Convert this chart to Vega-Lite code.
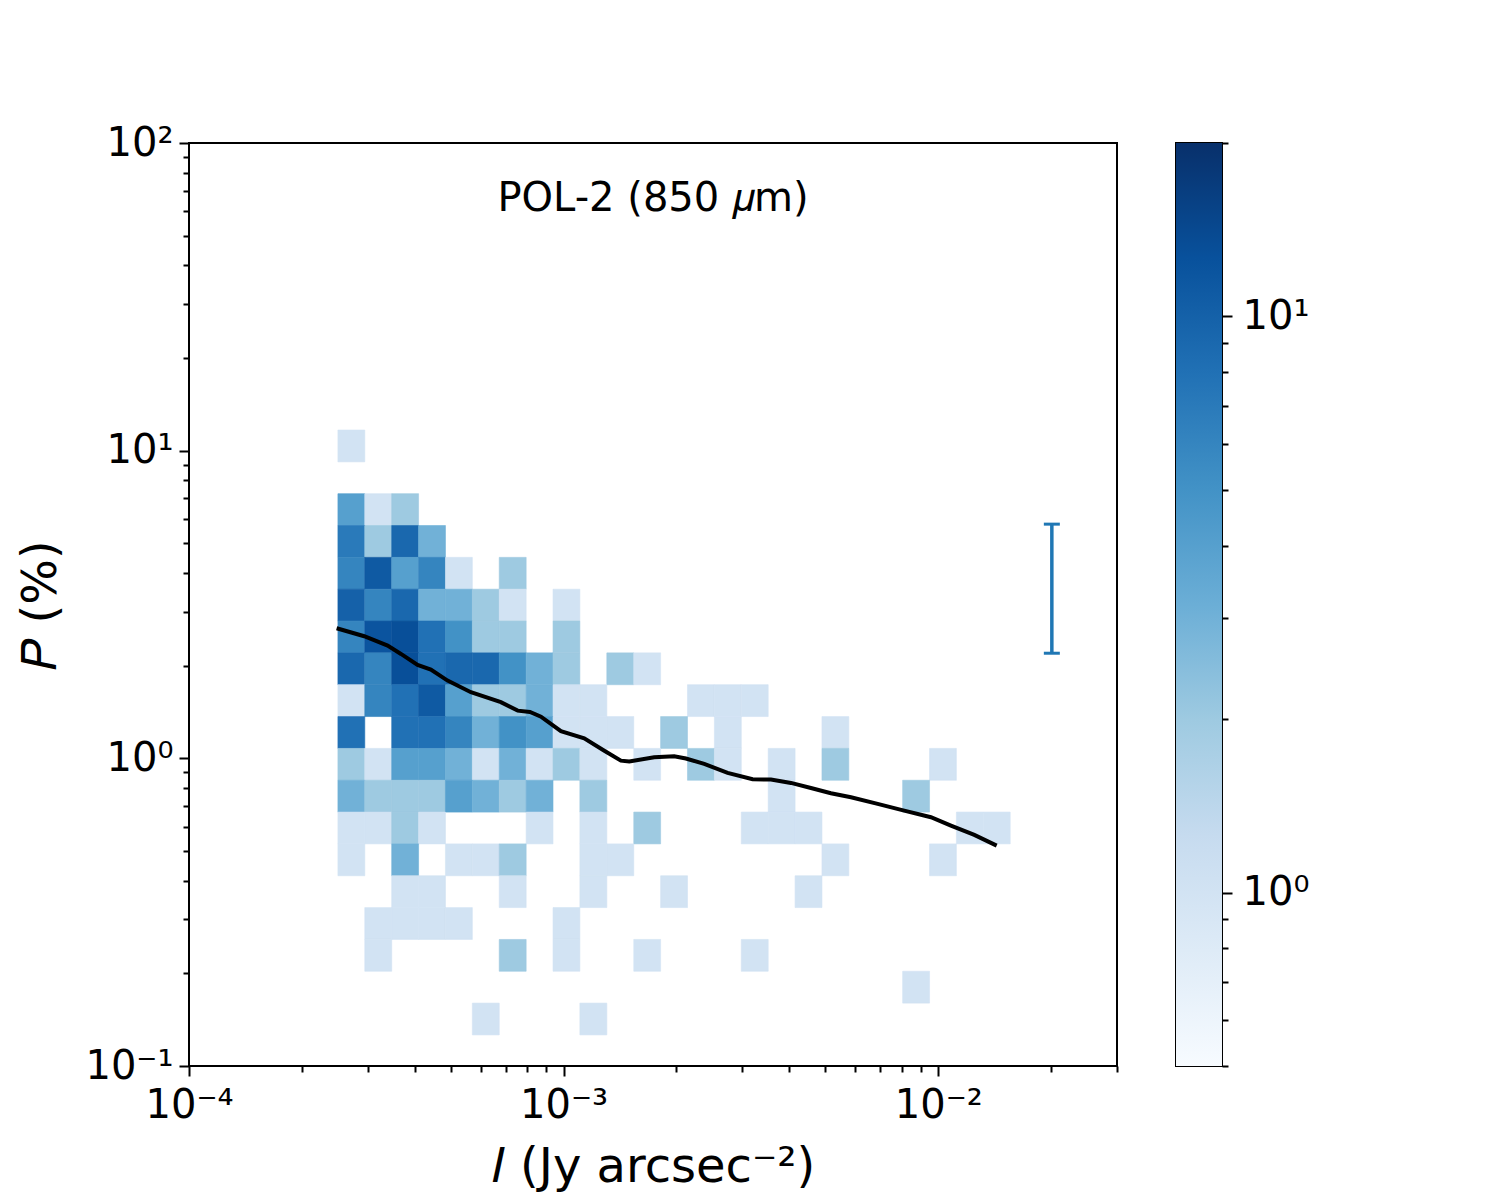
{
  "$schema": "https://vega.github.io/schema/vega-lite/v6.json",
  "background": "white",
  "padding": {"left": 16, "top": 122, "right": 5, "bottom": 5},
  "spacing": 56,
  "config": {
    "font": "DejaVu Sans",
    "view": {"stroke": "black", "strokeWidth": 2},
    "axis": {
      "grid": false, "domain": false, "tickColor": "black", "tickWidth": 2,
      "labelColor": "black", "titleColor": "black", "labelFont": "DejaVu Sans", "titleFont": "DejaVu Sans",
      "labelFontSize": 40, "titleFontSize": 48, "titleFontWeight": "normal",
      "labelFlush": false, "labelOverlap": false
    }
  },
  "datasets": {
    "xbins": [
      {"c": 0, "lo": 0.00024975, "hi": 0.0002946},
      {"c": 1, "lo": 0.0002946, "hi": 0.0003476},
      {"c": 2, "lo": 0.0003476, "hi": 0.0004101},
      {"c": 3, "lo": 0.0004101, "hi": 0.0004837},
      {"c": 4, "lo": 0.0004837, "hi": 0.0005706},
      {"c": 5, "lo": 0.0005706, "hi": 0.0006732},
      {"c": 6, "lo": 0.0006732, "hi": 0.0007943},
      {"c": 7, "lo": 0.0007943, "hi": 0.0009369},
      {"c": 8, "lo": 0.0009369, "hi": 0.001105},
      {"c": 9, "lo": 0.001105, "hi": 0.001304},
      {"c": 10, "lo": 0.001304, "hi": 0.001539},
      {"c": 11, "lo": 0.001539, "hi": 0.001815},
      {"c": 12, "lo": 0.001815, "hi": 0.002141},
      {"c": 13, "lo": 0.002141, "hi": 0.002526},
      {"c": 14, "lo": 0.002526, "hi": 0.00298},
      {"c": 15, "lo": 0.00298, "hi": 0.003516},
      {"c": 16, "lo": 0.003516, "hi": 0.004148},
      {"c": 17, "lo": 0.004148, "hi": 0.004893},
      {"c": 18, "lo": 0.004893, "hi": 0.005771},
      {"c": 19, "lo": 0.005771, "hi": 0.00681},
      {"c": 20, "lo": 0.00681, "hi": 0.008034},
      {"c": 21, "lo": 0.008034, "hi": 0.009478},
      {"c": 22, "lo": 0.009478, "hi": 0.01118},
      {"c": 23, "lo": 0.01118, "hi": 0.01319},
      {"c": 24, "lo": 0.01319, "hi": 0.01556}
    ],
    "ybins": [
      {"r": 0, "lo": 9.196, "hi": 11.67},
      {"r": 1, "lo": 7.247, "hi": 9.196},
      {"r": 2, "lo": 5.711, "hi": 7.247},
      {"r": 3, "lo": 4.5, "hi": 5.711},
      {"r": 4, "lo": 3.546, "hi": 4.5},
      {"r": 5, "lo": 2.794, "hi": 3.546},
      {"r": 6, "lo": 2.202, "hi": 2.794},
      {"r": 7, "lo": 1.735, "hi": 2.202},
      {"r": 8, "lo": 1.367, "hi": 1.735},
      {"r": 9, "lo": 1.077, "hi": 1.367},
      {"r": 10, "lo": 0.8487, "hi": 1.077},
      {"r": 11, "lo": 0.6688, "hi": 0.8487},
      {"r": 12, "lo": 0.5271, "hi": 0.6688},
      {"r": 13, "lo": 0.4153, "hi": 0.5271},
      {"r": 14, "lo": 0.3272, "hi": 0.4153},
      {"r": 15, "lo": 0.2578, "hi": 0.3272},
      {"r": 16, "lo": 0.2032, "hi": 0.2578},
      {"r": 17, "lo": 0.1601, "hi": 0.2032},
      {"r": 18, "lo": 0.1262, "hi": 0.1601}
    ],
    "cells": [
      {"r": 0, "c": 0, "n": 1},
      {"r": 2, "c": 0, "n": 4}, {"r": 2, "c": 1, "n": 1}, {"r": 2, "c": 2, "n": 2},
      {"r": 3, "c": 0, "n": 7}, {"r": 3, "c": 1, "n": 2}, {"r": 3, "c": 2, "n": 9}, {"r": 3, "c": 3, "n": 3},
      {"r": 4, "c": 0, "n": 6}, {"r": 4, "c": 1, "n": 11}, {"r": 4, "c": 2, "n": 4}, {"r": 4, "c": 3, "n": 6}, {"r": 4, "c": 4, "n": 1}, {"r": 4, "c": 6, "n": 2},
      {"r": 5, "c": 0, "n": 10}, {"r": 5, "c": 1, "n": 6}, {"r": 5, "c": 2, "n": 9}, {"r": 5, "c": 3, "n": 3}, {"r": 5, "c": 4, "n": 3}, {"r": 5, "c": 5, "n": 2}, {"r": 5, "c": 6, "n": 1}, {"r": 5, "c": 8, "n": 1},
      {"r": 6, "c": 0, "n": 6}, {"r": 6, "c": 1, "n": 12}, {"r": 6, "c": 2, "n": 13}, {"r": 6, "c": 3, "n": 8}, {"r": 6, "c": 4, "n": 5}, {"r": 6, "c": 5, "n": 2}, {"r": 6, "c": 6, "n": 2}, {"r": 6, "c": 8, "n": 2},
      {"r": 7, "c": 0, "n": 9}, {"r": 7, "c": 1, "n": 6}, {"r": 7, "c": 2, "n": 13}, {"r": 7, "c": 3, "n": 8}, {"r": 7, "c": 4, "n": 9}, {"r": 7, "c": 5, "n": 9}, {"r": 7, "c": 6, "n": 5}, {"r": 7, "c": 7, "n": 3}, {"r": 7, "c": 8, "n": 2}, {"r": 7, "c": 10, "n": 2}, {"r": 7, "c": 11, "n": 1},
      {"r": 8, "c": 0, "n": 1}, {"r": 8, "c": 1, "n": 6}, {"r": 8, "c": 2, "n": 8}, {"r": 8, "c": 3, "n": 11}, {"r": 8, "c": 4, "n": 4}, {"r": 8, "c": 5, "n": 2}, {"r": 8, "c": 6, "n": 2}, {"r": 8, "c": 7, "n": 3}, {"r": 8, "c": 8, "n": 1}, {"r": 8, "c": 9, "n": 1}, {"r": 8, "c": 13, "n": 1}, {"r": 8, "c": 14, "n": 1}, {"r": 8, "c": 15, "n": 1},
      {"r": 9, "c": 0, "n": 8}, {"r": 9, "c": 2, "n": 8}, {"r": 9, "c": 3, "n": 8}, {"r": 9, "c": 4, "n": 6}, {"r": 9, "c": 5, "n": 3}, {"r": 9, "c": 6, "n": 5}, {"r": 9, "c": 7, "n": 4}, {"r": 9, "c": 8, "n": 1}, {"r": 9, "c": 9, "n": 1}, {"r": 9, "c": 10, "n": 1}, {"r": 9, "c": 12, "n": 2}, {"r": 9, "c": 14, "n": 1}, {"r": 9, "c": 18, "n": 1},
      {"r": 10, "c": 0, "n": 2}, {"r": 10, "c": 1, "n": 1}, {"r": 10, "c": 2, "n": 4}, {"r": 10, "c": 3, "n": 4}, {"r": 10, "c": 4, "n": 3}, {"r": 10, "c": 5, "n": 1}, {"r": 10, "c": 6, "n": 3}, {"r": 10, "c": 7, "n": 1}, {"r": 10, "c": 8, "n": 2}, {"r": 10, "c": 9, "n": 1}, {"r": 10, "c": 11, "n": 1}, {"r": 10, "c": 13, "n": 2}, {"r": 10, "c": 14, "n": 1}, {"r": 10, "c": 16, "n": 1}, {"r": 10, "c": 18, "n": 2}, {"r": 10, "c": 22, "n": 1},
      {"r": 11, "c": 0, "n": 3}, {"r": 11, "c": 1, "n": 2}, {"r": 11, "c": 2, "n": 2}, {"r": 11, "c": 3, "n": 2}, {"r": 11, "c": 4, "n": 4}, {"r": 11, "c": 5, "n": 3}, {"r": 11, "c": 6, "n": 2}, {"r": 11, "c": 7, "n": 3}, {"r": 11, "c": 9, "n": 2}, {"r": 11, "c": 16, "n": 1}, {"r": 11, "c": 21, "n": 2},
      {"r": 12, "c": 0, "n": 1}, {"r": 12, "c": 1, "n": 1}, {"r": 12, "c": 2, "n": 2}, {"r": 12, "c": 3, "n": 1}, {"r": 12, "c": 7, "n": 1}, {"r": 12, "c": 9, "n": 1}, {"r": 12, "c": 11, "n": 2}, {"r": 12, "c": 15, "n": 1}, {"r": 12, "c": 16, "n": 1}, {"r": 12, "c": 17, "n": 1}, {"r": 12, "c": 23, "n": 1}, {"r": 12, "c": 24, "n": 1},
      {"r": 13, "c": 0, "n": 1}, {"r": 13, "c": 2, "n": 3}, {"r": 13, "c": 4, "n": 1}, {"r": 13, "c": 5, "n": 1}, {"r": 13, "c": 6, "n": 2}, {"r": 13, "c": 9, "n": 1}, {"r": 13, "c": 10, "n": 1}, {"r": 13, "c": 18, "n": 1}, {"r": 13, "c": 22, "n": 1},
      {"r": 14, "c": 2, "n": 1}, {"r": 14, "c": 3, "n": 1}, {"r": 14, "c": 6, "n": 1}, {"r": 14, "c": 9, "n": 1}, {"r": 14, "c": 12, "n": 1}, {"r": 14, "c": 17, "n": 1},
      {"r": 15, "c": 1, "n": 1}, {"r": 15, "c": 2, "n": 1}, {"r": 15, "c": 3, "n": 1}, {"r": 15, "c": 4, "n": 1}, {"r": 15, "c": 8, "n": 1},
      {"r": 16, "c": 1, "n": 1}, {"r": 16, "c": 6, "n": 2}, {"r": 16, "c": 8, "n": 1}, {"r": 16, "c": 11, "n": 1}, {"r": 16, "c": 15, "n": 1},
      {"r": 17, "c": 21, "n": 1},
      {"r": 18, "c": 5, "n": 1}, {"r": 18, "c": 9, "n": 1}
    ],
    "median": [
      {"x": 0.0002478, "y": 2.648}, {"x": 0.0002936, "y": 2.494}, {"x": 0.000339, "y": 2.324},
      {"x": 0.0003679, "y": 2.184}, {"x": 0.0004075, "y": 2.011}, {"x": 0.0004422, "y": 1.942},
      {"x": 0.00049, "y": 1.789}, {"x": 0.0005655, "y": 1.64}, {"x": 0.00068, "y": 1.522},
      {"x": 0.000754, "y": 1.429}, {"x": 0.000813, "y": 1.415}, {"x": 0.00087, "y": 1.366},
      {"x": 0.0009835, "y": 1.225}, {"x": 0.001135, "y": 1.161}, {"x": 0.001284, "y": 1.059},
      {"x": 0.001422, "y": 0.983}, {"x": 0.001497, "y": 0.976}, {"x": 0.001745, "y": 1.008},
      {"x": 0.001973, "y": 1.016}, {"x": 0.00212, "y": 0.999}, {"x": 0.002373, "y": 0.959},
      {"x": 0.00274, "y": 0.897}, {"x": 0.003195, "y": 0.855}, {"x": 0.003576, "y": 0.853},
      {"x": 0.004045, "y": 0.832}, {"x": 0.004572, "y": 0.801}, {"x": 0.00517, "y": 0.77},
      {"x": 0.005848, "y": 0.7474}, {"x": 0.00689, "y": 0.711}, {"x": 0.00811, "y": 0.676},
      {"x": 0.00956, "y": 0.6437}, {"x": 0.01081, "y": 0.6045}, {"x": 0.01248, "y": 0.5637},
      {"x": 0.01432, "y": 0.5202}
    ],
    "errbar": [{"x": 0.0201, "lo": 2.196, "hi": 5.77}],
    "cbar": [{"lo": 0.5, "hi": 20}]
  },
  "hconcat": [
    {
      "width": 928,
      "height": 923,
      "title": {
        "text": "POL-2 (850 𝜇m)", "fontSize": 40, "fontWeight": "normal", "color": "black",
        "frame": "group", "anchor": "middle", "offset": -96
      },
      "layer": [
        {
          "data": {"name": "cells"},
          "transform": [
            {"lookup": "c", "from": {"data": {"name": "xbins"}, "key": "c", "fields": ["lo", "hi"]}, "as": ["x0", "x1"]},
            {"lookup": "r", "from": {"data": {"name": "ybins"}, "key": "r", "fields": ["lo", "hi"]}, "as": ["y0", "y1"]}
          ],
          "mark": {"type": "rect", "strokeWidth": 0.6},
          "encoding": {
            "x": {
              "field": "x0", "type": "quantitative",
              "scale": {"type": "log", "domain": [0.0001, 0.03], "nice": false},
              "axis": {
                "orient": "bottom", "values": [0.0001, 0.001, 0.01],
                "labelExpr": "datum.value < 0.0005 ? '10⁻⁴' : datum.value < 0.005 ? '10⁻³' : '10⁻²'",
                "tickSize": 10, "labelPadding": 9, "title": "𝐼 (Jy arcsec⁻²)", "titlePadding": 18
              }
            },
            "x2": {"field": "x1"},
            "y": {
              "field": "y0", "type": "quantitative",
              "scale": {"type": "log", "domain": [0.1, 100], "nice": false},
              "axis": {
                "orient": "left", "values": [0.1, 1, 10, 100],
                "labelExpr": "datum.value < 0.5 ? '10⁻¹' : datum.value < 5 ? '10⁰' : datum.value < 50 ? '10¹' : '10²'",
                "tickSize": 10, "labelPadding": 6, "title": "𝑃 (%)",
                "titleX": -148, "titleBaseline": "middle"
              }
            },
            "y2": {"field": "y1"},
            "color": {
              "field": "n", "type": "quantitative",
              "scale": {
                "type": "log",
                "domain": [0.5, 0.7929, 1.2574, 1.9938, 3.1623, 5.0149, 7.9527, 12.612, 20],
                "range": ["#f7fbff", "#deebf7", "#c6dbef", "#9ecae1", "#6baed6", "#4292c6", "#2171b5", "#08519c", "#08306b"],
                "interpolate": "rgb"
              },
              "legend": null
            },
            "stroke": {
              "field": "n", "type": "quantitative",
              "scale": {
                "type": "log",
                "domain": [0.5, 0.7929, 1.2574, 1.9938, 3.1623, 5.0149, 7.9527, 12.612, 20],
                "range": ["#f7fbff", "#deebf7", "#c6dbef", "#9ecae1", "#6baed6", "#4292c6", "#2171b5", "#08519c", "#08306b"],
                "interpolate": "rgb"
              },
              "legend": null
            }
          }
        },
        {
          "data": {"name": "median"},
          "mark": {"type": "line", "color": "black", "strokeWidth": 4},
          "encoding": {
            "x": {
              "field": "x", "type": "quantitative",
              "axis": {
                "orient": "bottom", "labels": false, "title": null, "tickSize": 6,
                "values": [0.0002, 0.0003, 0.0004, 0.0005, 0.0006, 0.0007, 0.0008, 0.0009, 0.002, 0.003, 0.004, 0.005, 0.006, 0.007, 0.008, 0.009, 0.02, 0.03]
              }
            },
            "y": {
              "field": "y", "type": "quantitative",
              "axis": {
                "orient": "left", "labels": false, "title": null, "tickSize": 6,
                "values": [0.2, 0.3, 0.4, 0.5, 0.6, 0.7, 0.8, 0.9, 2, 3, 4, 5, 6, 7, 8, 9, 20, 30, 40, 50, 60, 70, 80, 90]
              }
            }
          }
        },
        {
          "data": {"name": "errbar"},
          "mark": {"type": "rule", "color": "#1f77b4", "strokeWidth": 3.5},
          "encoding": {
            "x": {"field": "x", "type": "quantitative", "axis": null},
            "y": {"field": "lo", "type": "quantitative", "axis": null},
            "y2": {"field": "hi"}
          }
        },
        {
          "data": {"name": "errbar"},
          "mark": {"type": "tick", "orient": "horizontal", "color": "#1f77b4", "size": 16, "thickness": 3, "opacity": 1},
          "encoding": {
            "x": {"field": "x", "type": "quantitative", "axis": null},
            "y": {"field": "lo", "type": "quantitative", "axis": null}
          }
        },
        {
          "data": {"name": "errbar"},
          "mark": {"type": "tick", "orient": "horizontal", "color": "#1f77b4", "size": 16, "thickness": 3, "opacity": 1},
          "encoding": {
            "x": {"field": "x", "type": "quantitative", "axis": null},
            "y": {"field": "hi", "type": "quantitative", "axis": null}
          }
        }
      ],
      "resolve": {"axis": {"x": "independent", "y": "independent"}}
    },
    {
      "width": 46,
      "height": 923,
      "data": {"name": "cbar"},
      "layer": [
        {
          "mark": {
            "type": "rect",
            "fill": {
              "gradient": "linear", "x1": 0, "y1": 1, "x2": 0, "y2": 0,
              "stops": [
                {"offset": 0, "color": "#f7fbff"},
                {"offset": 0.125, "color": "#deebf7"},
                {"offset": 0.25, "color": "#c6dbef"},
                {"offset": 0.375, "color": "#9ecae1"},
                {"offset": 0.5, "color": "#6baed6"},
                {"offset": 0.625, "color": "#4292c6"},
                {"offset": 0.75, "color": "#2171b5"},
                {"offset": 0.875, "color": "#08519c"},
                {"offset": 1, "color": "#08306b"}
              ]
            }
          },
          "encoding": {
            "x": {"datum": 0, "type": "quantitative", "scale": {"domain": [0, 1]}, "axis": null},
            "x2": {"datum": 1},
            "y": {
              "field": "lo", "type": "quantitative",
              "scale": {"type": "log", "domain": [0.5, 20], "nice": false},
              "axis": {
                "orient": "right", "values": [1, 10],
                "labelExpr": "datum.value < 5 ? '10⁰' : '10¹'",
                "tickSize": 10, "labelPadding": 10, "title": null
              }
            },
            "y2": {"field": "hi"}
          }
        },
        {
          "mark": {"type": "rule", "opacity": 0},
          "encoding": {
            "y": {
              "field": "lo", "type": "quantitative",
              "axis": {
                "orient": "right", "labels": false, "title": null, "tickSize": 6,
                "values": [0.5, 0.6, 0.7, 0.8, 0.9, 2, 3, 4, 5, 6, 7, 8, 9, 20]
              }
            }
          }
        }
      ],
      "resolve": {"axis": {"y": "independent"}}
    }
  ]
}
